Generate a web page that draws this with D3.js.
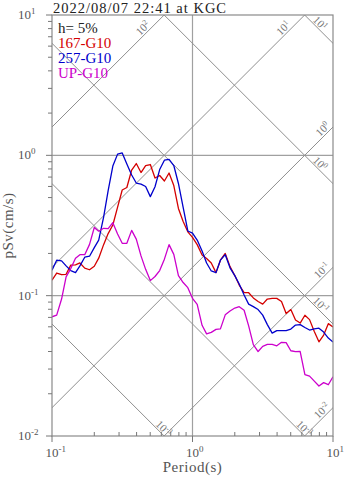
<!DOCTYPE html>
<html>
<head>
<meta charset="utf-8">
<script src="https://cdn.jsdelivr.net/npm/d3@7/dist/d3.min.js"></script>
<style>
  body { margin: 0; background: #fff; }
  svg { display: block; font-family: "Liberation Serif", "DejaVu Serif", serif; }
</style>
</head>
<body>
<svg id="chart" width="347" height="478"></svg>
<script>
// Natural periods (s), log-spaced, 30 per decade
const periods = [0.100,0.108,0.117,0.126,0.136,0.147,0.158,0.171,0.185,0.200,
  0.215,0.233,0.251,0.271,0.293,0.316,0.341,0.369,0.398,0.430,
  0.464,0.501,0.541,0.584,0.631,0.681,0.736,0.794,0.858,0.926,
  1.00,1.08,1.17,1.26,1.36,1.47,1.58,1.71,1.85,2.00,
  2.15,2.33,2.51,2.71,2.93,3.16,3.41,3.69,3.98,4.30,
  4.64,5.01,5.41,5.84,6.31,6.81,7.36,7.94,8.58,9.26,10.0];

// Pseudo velocity response (cm/s), h = 5%
const psv167 = [0.129,0.145,0.141,0.142,0.165,0.166,0.171,0.157,0.153,0.162,
  0.185,0.231,0.277,0.319,0.428,0.566,0.590,0.786,0.874,0.754,
  0.846,0.860,0.689,0.718,0.656,0.748,0.609,0.418,0.338,0.285,
  0.260,0.231,0.195,0.184,0.171,0.146,0.179,0.200,0.161,0.139,
  0.119,0.105,0.105,0.0964,0.0909,0.0871,0.0946,0.0957,0.0957,0.0908,
  0.0745,0.0796,0.0670,0.0638,0.0725,0.0675,0.0555,0.0469,0.0524,0.0632,0.0598];

const psv257 = [0.152,0.179,0.177,0.163,0.151,0.146,0.163,0.188,0.191,0.220,
  0.249,0.363,0.560,0.839,1.02,1.04,0.867,0.724,0.635,0.624,
  0.600,0.508,0.597,0.792,0.923,0.936,0.846,0.630,0.425,0.289,
  0.279,0.249,0.208,0.171,0.150,0.146,0.179,0.196,0.158,0.139,
  0.121,0.101,0.0871,0.0836,0.0796,0.0727,0.0622,0.0541,0.0564,0.0564,
  0.0564,0.0578,0.0617,0.0622,0.0593,0.0569,0.0580,0.0587,0.0550,0.0499,0.0467];

const psvUP = [0.0707,0.0727,0.0946,0.136,0.156,0.185,0.196,0.196,0.232,0.306,
  0.288,0.302,0.300,0.331,0.275,0.236,0.236,0.292,0.253,0.192,
  0.154,0.128,0.137,0.151,0.182,0.231,0.197,0.139,0.124,0.114,
  0.0957,0.0868,0.0615,0.0534,0.0548,0.0575,0.0580,0.0730,0.0777,0.0816,
  0.0834,0.0787,0.0609,0.0448,0.0400,0.0435,0.0449,0.0449,0.0439,0.0465,
  0.0463,0.0405,0.0399,0.0400,0.0274,0.0267,0.0246,0.0227,0.0240,0.0232,0.0264];

const seriesNames = ["167-G10", "257-G10", "UP-G10"];
const seriesColors = ["#d40000", "#0000cc", "#cc00cc"];
const seriesValues = [psv167, psv257, psvUP];

// Tripartite guide levels
const dispLevels = [1e-3, 1e-2, 1e-1, 1, 10];      // displacement, cm
const accLevels = [1e-2, 1e-1, 1, 10, 100];        // acceleration, cm/s^2
const dispLabels = ["-3", "-3", "-1", "0", "1"];   // exponents printed along displacement lines
const accLabels = ["-2", "-1", "0", "1", "2"];

const xTickExps = [-1, 0, 1];
const yTickExps = [-2, -1, 0, 1];
const titleText = "2022/08/07 22:41 at KGC";
const dampingText = "h= 5%";

const svg = d3.select("#chart");
const L = 52, R = 333, T = 15, B = 436;
const x = d3.scaleLog().domain([0.1, 10]).range([L, R]);
const y = d3.scaleLog().domain([0.01, 10]).range([B, T]);
const gridColor = "#8f8f8f";
const textColor = "#555";
const TWO_PI = 2 * Math.PI;

svg.append("defs").append("clipPath").attr("id", "plotClip")
  .append("rect").attr("x", L).attr("y", T).attr("width", R - L).attr("height", B - T);

const plot = svg.append("g").attr("clip-path", "url(#plotClip)");

// Grid at decades
plot.append("line").attr("x1", x(1)).attr("x2", x(1)).attr("y1", T).attr("y2", B)
  .attr("stroke", "#a0a0a0").attr("stroke-width", 1.2);
[1, 0.1].forEach(v => {
  plot.append("line").attr("x1", L).attr("x2", R).attr("y1", y(v)).attr("y2", y(v))
    .attr("stroke", "#a0a0a0").attr("stroke-width", 1.2);
});

// Constant displacement: pSv = 2*pi*D/T
dispLevels.forEach(d => {
  plot.append("line")
    .attr("x1", x(0.1)).attr("y1", y(TWO_PI * d / 0.1))
    .attr("x2", x(10)).attr("y2", y(TWO_PI * d / 10))
    .attr("stroke", gridColor).attr("stroke-width", 1);
});
// Constant acceleration: pSv = A*T/(2*pi)
accLevels.forEach(a => {
  plot.append("line")
    .attr("x1", x(0.1)).attr("y1", y(a * 0.1 / TWO_PI))
    .attr("x2", x(10)).attr("y2", y(a * 10 / TWO_PI))
    .attr("stroke", gridColor).attr("stroke-width", 1);
});

function powerLabel(g, exp, size, supSize, supRaise) {
  g.append("tspan").text("10").attr("font-size", size);
  g.append("tspan").text(exp).attr("font-size", supSize).attr("dy", -supRaise);
}

// Guide labels
const guide = svg.append("g").attr("fill", "#747474");
accLevels.forEach((a, i) => {
  // where the line leaves the frame (top or right)
  const tTop = TWO_PI * 10 / a;
  let ex, ey;
  if (tTop <= 10) { ex = x(tTop) - 12; }
  else { ex = R - 1; }
  const tAt = x.invert(ex);
  ey = y(a * tAt / TWO_PI);
  const px = ex - 1.5, py = ey - 1.5;
  const t = guide.append("text").attr("text-anchor", "end")
    .attr("transform", `translate(${px},${py}) rotate(-45)`);
  powerLabel(t, accLabels[i], 11, 7.5, 4);
});
dispLevels.forEach((d, i) => {
  const tBottom = TWO_PI * d / 0.01;
  let t;
  if (tBottom < 6.9) {
    // ends at the bottom edge
    const ex = x(tBottom) + 2;
    const ey = y(TWO_PI * d / x.invert(ex));
    t = guide.append("text").attr("text-anchor", "end")
      .attr("transform", `translate(${ex + 1},${ey - 1}) rotate(45)`);
  } else {
    const sx = x(7.0);
    const sy = y(TWO_PI * d / 7.0);
    t = guide.append("text").attr("text-anchor", "start")
      .attr("transform", `translate(${sx + 1},${sy - 1}) rotate(45)`);
  }
  powerLabel(t, dispLabels[i], 11, 7.5, 4);
});

// Spectra
const line = d3.line().x((d, i) => x(periods[i])).y(d => y(d));
seriesValues.forEach((vals, s) => {
  plot.append("path").datum(vals).attr("d", line)
    .attr("fill", "none").attr("stroke", seriesColors[s])
    .attr("stroke-width", 1.3).attr("stroke-linejoin", "round");
});

// Frame
svg.append("rect").attr("x", L).attr("y", T).attr("width", R - L).attr("height", B - T)
  .attr("fill", "none").attr("stroke", "#8a8a8a").attr("stroke-width", 1.2);

// Y ticks (outside, left)
const yTicks = svg.append("g").attr("stroke", "#777").attr("stroke-width", 1);
for (let e = -2; e < 1; e++) {
  for (let m = 2; m <= 9; m++) {
    const v = m * Math.pow(10, e);
    yTicks.append("line").attr("x1", L - 4).attr("x2", L).attr("y1", y(v)).attr("y2", y(v));
  }
}
yTickExps.forEach(e => {
  yTicks.append("line").attr("x1", L - 6).attr("x2", L).attr("y1", y(Math.pow(10, e))).attr("y2", y(Math.pow(10, e)));
  const t = svg.append("text").attr("x", 18).attr("y", y(Math.pow(10, e)) + 4)
    .attr("fill", textColor);
  powerLabel(t, String(e), 13, 9, 5);
});

// X ticks (minor inside, major outside)
const xTicks = svg.append("g").attr("stroke", "#777").attr("stroke-width", 1);
for (let e = -1; e < 1; e++) {
  for (let m = 2; m <= 9; m++) {
    const v = m * Math.pow(10, e);
    xTicks.append("line").attr("x1", x(v)).attr("x2", x(v)).attr("y1", B - 4).attr("y2", B);
  }
}
xTickExps.forEach(e => {
  xTicks.append("line").attr("x1", x(Math.pow(10, e))).attr("x2", x(Math.pow(10, e))).attr("y1", B).attr("y2", B + 6);
  const t = svg.append("text").attr("x", x(Math.pow(10, e)) - 6.5).attr("y", 457)
    .attr("fill", textColor);
  powerLabel(t, String(e), 13, 9, 5);
});

// Axis titles
svg.append("text").attr("x", x(1)).attr("y", 472).attr("text-anchor", "middle")
  .attr("font-size", 15).attr("fill", textColor).attr("letter-spacing", 0.5).text("Period(s)");
svg.append("text").attr("transform", `translate(13,${(T + B) / 2}) rotate(-90)`)
  .attr("text-anchor", "middle").attr("font-size", 15).attr("fill", textColor)
  .attr("letter-spacing", 0.5).text("pSv(cm/s)");

// Title
svg.append("text").attr("x", 53).attr("y", 13).attr("font-size", 14.5)
  .attr("fill", "#222").attr("letter-spacing", 1.0).text(titleText);

// Legend
const legend = svg.append("g").attr("font-size", 15);
legend.append("text").attr("x", 58).attr("y", 33).attr("fill", "#222").text(dampingText);
seriesNames.forEach((n, i) => {
  legend.append("text").attr("x", 58).attr("y", 48 + 15 * i)
    .attr("fill", seriesColors[i]).text(n);
});
</script>
</body>
</html>
